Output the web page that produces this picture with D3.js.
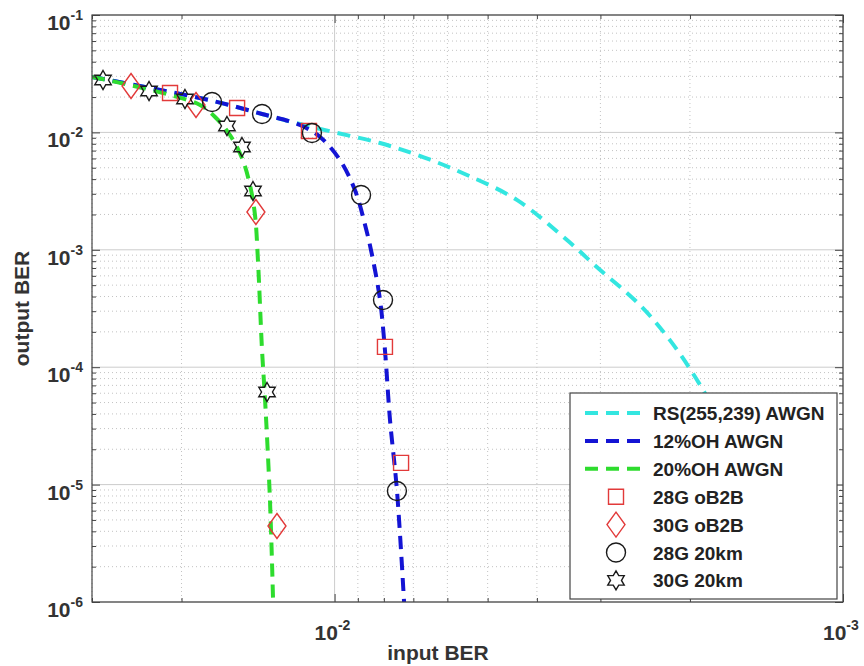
<!DOCTYPE html>
<html>
<head>
<meta charset="utf-8">
<script src="https://cdn.jsdelivr.net/npm/d3@7"></script>
<style>
  body { margin: 0; background: #fff; }
  svg { display: block; font-family: "Liberation Sans", Arial, sans-serif; }
</style>
</head>
<body>
<div id="chart"></div>
<script>
// ---- data: [input BER, output BER] ----
const rsAwgn = [[0.03, 0.0297], [0.02307, 0.02389], [0.01734, 0.01851], [0.01389, 0.01435],
  [0.0117, 0.01179], [0.01007, 0.01008], [0.00814, 0.00812], [0.0067, 0.00617],
  [0.00549, 0.00434], [0.00438, 0.00266], [0.00349, 0.00121], [0.00305, 0.000714],
  [0.00251, 0.000339], [0.00219, 0.00017], [0.00191, 7.05e-5], [0.00167, 2.4e-5],
  [0.00146, 6.08e-6], [0.00127, 1e-6]];
const oh12Awgn = [[0.03, 0.0297], [0.02307, 0.02389], [0.01734, 0.01851], [0.01389, 0.01435],
  [0.0117, 0.01156], [0.01068, 0.00914], [0.00976, 0.00582], [0.00912, 0.00323],
  [0.00871, 0.00163], [0.00844, 0.000903], [0.00814, 0.000374], [0.00796, 0.00014],
  [0.00778, 3.55e-5], [0.00754, 8.99e-6], [0.0073, 1e-6]];
const oh20Awgn = [[0.03, 0.0297], [0.02526, 0.02533], [0.02107, 0.02083], [0.01839, 0.01711],
  [0.01718, 0.01352], [0.01606, 0.0095], [0.01521, 0.00605], [0.01467, 0.00356],
  [0.01434, 0.00198], [0.01415, 0.000819], [0.01389, 0.00014], [0.0137, 5.26e-5],
  [0.0134, 7.39e-6], [0.01321, 1e-6]];
const b2b28G = [[0.02107, 0.02167], [0.01555, 0.01614], [0.01123, 0.01028], [0.00796, 0.000149], [0.0074, 1.53e-5]];
const b2b30G = [[0.02514, 0.02485], [0.01873, 0.01711], [0.01428, 0.0021], [0.01298, 4.44e-6]];
const km20_28G = [[0.01742, 0.01815], [0.01389, 0.01435], [0.01108, 0.00988], [0.00887, 0.00293], [0.00803, 0.000374], [0.00754, 8.82e-6]];
const km20_30G = [[0.02854, 0.02795], [0.02317, 0.02253], [0.01969, 0.01925], [0.01628, 0.01134], [0.01521, 0.00751], [0.01447, 0.00317], [0.01358, 6.15e-5]];

const lineNames = ["RS(255,239) AWGN", "12%OH AWGN", "20%OH AWGN"];
const markerNames = ["28G oB2B", "30G oB2B", "28G 20km", "30G 20km"];
const xTickExp = [-2, -3];
const yTickExp = [-1, -2, -3, -4, -5, -6];

const W = 864, H = 666;
const margin = { left: 92, top: 15, right: 21, bottom: 64 };

const svg = d3.select("#chart").append("svg").attr("width", W).attr("height", H);

const x = d3.scaleLog().domain([0.03, 0.001]).range([margin.left, W - margin.right]);
const y = d3.scaleLog().domain([1e-1, 1e-6]).range([margin.top, H - margin.bottom]);
const x0 = margin.left, x1 = W - margin.right, y0 = margin.top, y1 = H - margin.bottom;

// minor positions
const xMinor = [];
for (let d = -3; d <= -2; d++) for (let k = 2; k <= 9; k++) { const v = k * Math.pow(10, d); if (v <= 0.03) xMinor.push(v); }
const yMinor = [];
for (let d = -6; d <= -2; d++) for (let k = 2; k <= 9; k++) yMinor.push(k * Math.pow(10, d));

// grid
const grid = svg.append("g");
grid.selectAll(".xmin").data(xMinor).enter().append("line")
  .attr("x1", d => x(d)).attr("x2", d => x(d)).attr("y1", y0).attr("y2", y1)
  .attr("stroke", "#b4b4b4").attr("stroke-width", 0.8).attr("stroke-dasharray", "1,3");
grid.selectAll(".ymin").data(yMinor).enter().append("line")
  .attr("y1", d => y(d)).attr("y2", d => y(d)).attr("x1", x0).attr("x2", x1)
  .attr("stroke", "#b4b4b4").attr("stroke-width", 0.8).attr("stroke-dasharray", "1,3");
grid.selectAll(".xmaj").data(xTickExp.map(e => Math.pow(10, e))).enter().append("line")
  .attr("x1", d => x(d)).attr("x2", d => x(d)).attr("y1", y0).attr("y2", y1)
  .attr("stroke", "#ccc").attr("stroke-width", 1);
grid.selectAll(".ymaj").data(yTickExp.map(e => Math.pow(10, e))).enter().append("line")
  .attr("y1", d => y(d)).attr("y2", d => y(d)).attr("x1", x0).attr("x2", x1)
  .attr("stroke", "#ccc").attr("stroke-width", 1);

// clip
svg.append("clipPath").attr("id", "plot").append("rect")
  .attr("x", x0).attr("y", y0).attr("width", x1 - x0).attr("height", y1 - y0);

const lineColors = ["#33e6e0", "#1414d4", "#2edc2e"];
const line = d3.line().x(d => x(d[0])).y(d => y(d[1])).curve(d3.curveCatmullRom);
const curves = [rsAwgn, oh12Awgn, oh20Awgn];
svg.append("g").attr("clip-path", "url(#plot)")
  .selectAll("path").data(curves).enter().append("path")
  .attr("d", line).attr("fill", "none")
  .attr("stroke", (d, i) => lineColors[i]).attr("stroke-width", 4)
  .attr("stroke-dasharray", "13,8");

// marker shapes
function hexagram(r) {
  const pts = [];
  for (let i = 0; i < 12; i++) {
    const a = -Math.PI / 2 + i * Math.PI / 6;
    const rr = i % 2 === 0 ? r : r / Math.sqrt(3);
    pts.push([rr * Math.cos(a), rr * Math.sin(a)]);
  }
  return "M" + pts.map(p => p.join(",")).join("L") + "Z";
}
function diamond(w, h) { return `M0,${-h / 2}L${w / 2},0L0,${h / 2}L${-w / 2},0Z`; }
const shapes = [
  d3.symbol().type(d3.symbolSquare).size(15 * 15)(),
  diamond(18, 25),
  d3.symbol().type(d3.symbolCircle).size(Math.PI * 9.5 * 9.5)(),
  hexagram(9.5)
];
const markerColors = ["#e23a3a", "#e23a3a", "#1a1a1a", "#1a1a1a"];
const markerSets = [b2b28G, b2b30G, km20_28G, km20_30G];

markerSets.forEach((set, i) => {
  svg.append("g").selectAll("path").data(set).enter().append("path")
    .attr("d", shapes[i])
    .attr("transform", d => `translate(${x(d[0])},${y(d[1])})`)
    .attr("fill", "none").attr("stroke", markerColors[i]).attr("stroke-width", 1.4);
});

// axes box with inward ticks
const axisColor = "#444";
const ax = svg.append("g");
function ticks(g, gen, tr) {
  g.append("g").attr("transform", tr).call(gen)
    .call(s => s.select(".domain").remove())
    .call(s => s.selectAll("line").attr("stroke", axisColor));
}
ticks(ax, d3.axisBottom(x).tickValues(xTickExp.map(e => Math.pow(10, e))).tickSize(-8).tickFormat(""), `translate(0,${y1})`);
ticks(ax, d3.axisBottom(x).tickValues(xMinor).tickSize(-4).tickFormat(""), `translate(0,${y1})`);
ticks(ax, d3.axisTop(x).tickValues(xTickExp.map(e => Math.pow(10, e))).tickSize(-8).tickFormat(""), `translate(0,${y0})`);
ticks(ax, d3.axisTop(x).tickValues(xMinor).tickSize(-4).tickFormat(""), `translate(0,${y0})`);
ticks(ax, d3.axisLeft(y).tickValues(yTickExp.map(e => Math.pow(10, e))).tickSize(-8).tickFormat(""), `translate(${x0},0)`);
ticks(ax, d3.axisLeft(y).tickValues(yMinor).tickSize(-4).tickFormat(""), `translate(${x0},0)`);
ticks(ax, d3.axisRight(y).tickValues(yTickExp.map(e => Math.pow(10, e))).tickSize(-8).tickFormat(""), `translate(${x1},0)`);
ticks(ax, d3.axisRight(y).tickValues(yMinor).tickSize(-4).tickFormat(""), `translate(${x1},0)`);
ax.append("rect").attr("x", x0).attr("y", y0).attr("width", x1 - x0).attr("height", y1 - y0)
  .attr("fill", "none").attr("stroke", axisColor).attr("stroke-width", 1.2);

// tick labels 10^n
const labColor = "#333";
function powLabel(d) {
  const t = d3.select(this);
  t.append("tspan").text("10");
  t.append("tspan").attr("dy", -10).attr("font-size", 14).text(d);
}
svg.append("g").selectAll("text").data(yTickExp).enter().append("text")
  .attr("x", x0 - 9).attr("y", d => y(Math.pow(10, d)) + 15)
  .attr("text-anchor", "end").attr("font-size", 21).attr("font-weight", "bold").attr("fill", labColor)
  .each(powLabel);
svg.append("g").selectAll("text").data(xTickExp).enter().append("text")
  .attr("x", d => x(Math.pow(10, d)) - 20).attr("y", y1 + 38)
  .attr("font-size", 21).attr("font-weight", "bold").attr("fill", labColor)
  .each(powLabel);

// axis titles
svg.append("text").attr("x", 438).attr("y", 660).attr("text-anchor", "middle")
  .attr("font-size", 21).attr("font-weight", "bold").attr("fill", labColor).text("input BER");
svg.append("text").attr("transform", `translate(29,${(y0 + y1) / 2}) rotate(-90)`).attr("text-anchor", "middle")
  .attr("font-size", 21).attr("font-weight", "bold").attr("fill", labColor).text("output BER");

// legend
const lg = svg.append("g");
const lx = 570, ly = 393, lw = 267, lh = 206, rowH = 27.9;
lg.append("rect").attr("x", lx).attr("y", ly).attr("width", lw).attr("height", lh)
  .attr("fill", "#fff").attr("stroke", axisColor).attr("stroke-width", 1.2);
const allNames = lineNames.concat(markerNames);
allNames.forEach((name, i) => {
  const ry = ly + 20 + i * rowH;
  if (i < 3) {
    lg.append("line").attr("x1", lx + 15).attr("x2", lx + 78).attr("y1", ry).attr("y2", ry)
      .attr("stroke", lineColors[i]).attr("stroke-width", 4).attr("stroke-dasharray", "13,8");
  } else {
    const k = i - 3;
    lg.append("path").attr("d", shapes[k]).attr("transform", `translate(${lx + 46},${ry})`)
      .attr("fill", "none").attr("stroke", markerColors[k]).attr("stroke-width", 1.4);
  }
  lg.append("text").attr("x", lx + 83).attr("y", ry + 7)
    .attr("font-size", 19).attr("font-weight", "bold").attr("fill", "#222").text(name);
});
</script>
</body>
</html>
